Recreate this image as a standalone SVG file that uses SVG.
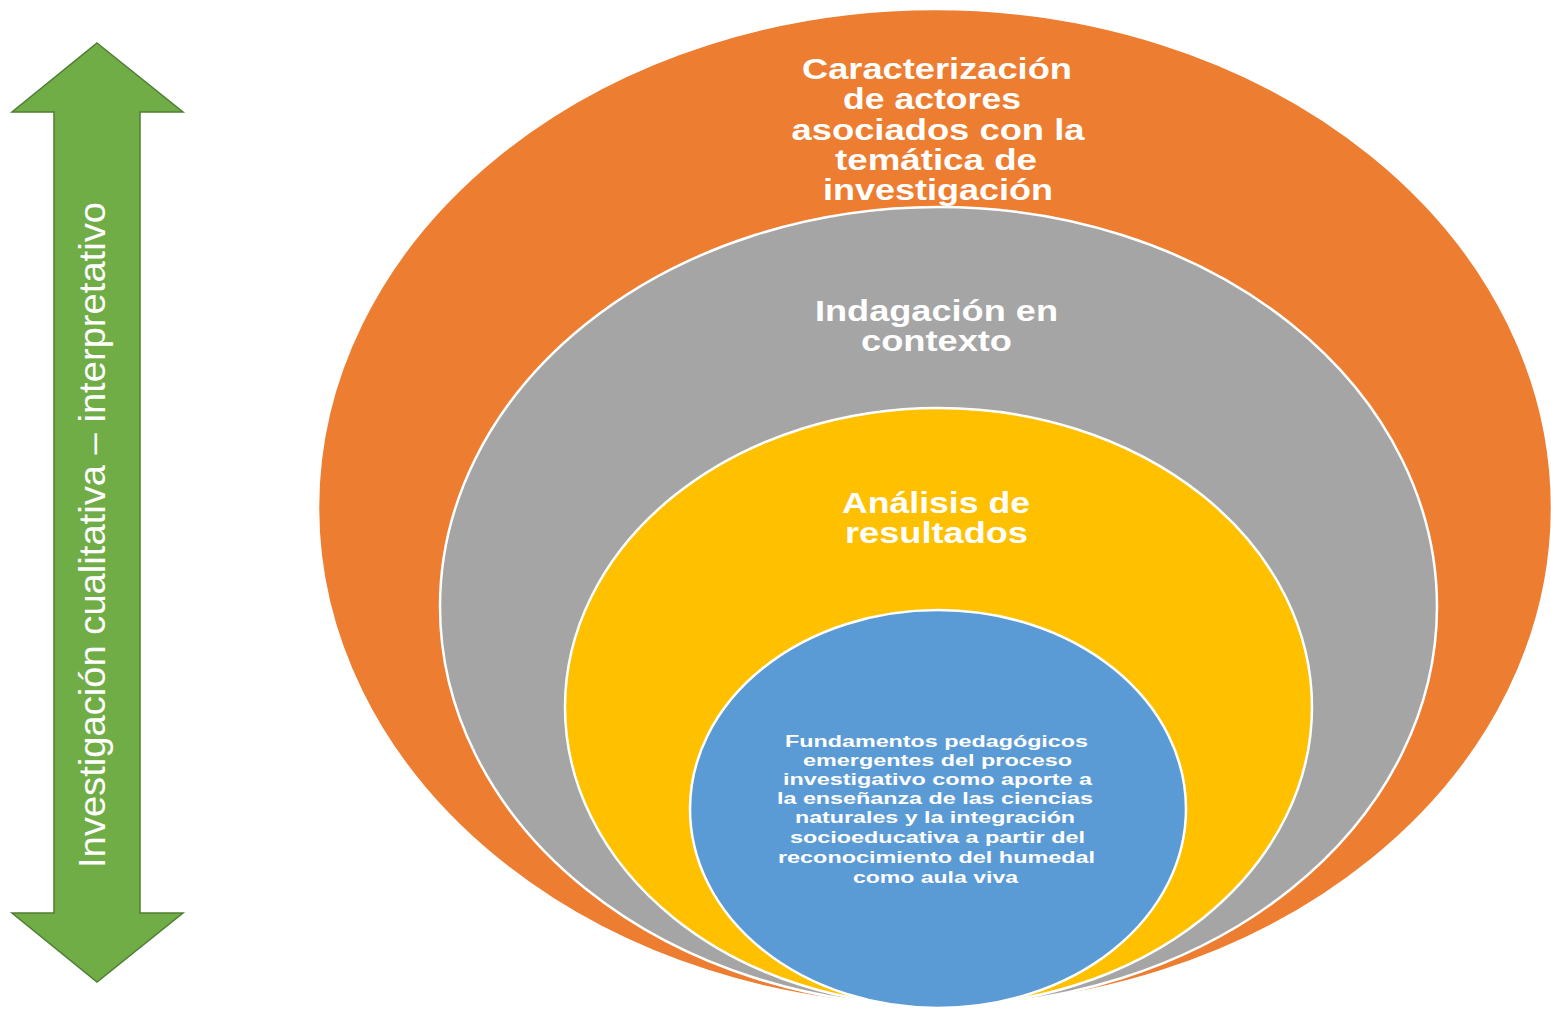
<svg xmlns="http://www.w3.org/2000/svg" width="1551" height="1010" viewBox="0 0 1551 1010">
<style>
.ell{stroke:#ffffff;stroke-width:2.5}
.big{font-family:"Liberation Sans",Arial,sans-serif;font-weight:bold;font-size:29px;fill:#ffffff;text-anchor:middle}
.small{font-family:"Liberation Sans",Arial,sans-serif;font-weight:bold;font-size:16px;fill:#ffffff;text-anchor:middle}
.vert{font-family:"Liberation Sans",Arial,sans-serif;font-size:36px;fill:#ffffff;text-anchor:middle}
</style>
<rect width="1551" height="1010" fill="#ffffff"/>
<g id="arrow">
<polygon points="97,43 183,112 140,112 140,913 183,913 97,982 12,913 54,913 54,112 12,112" fill="#70AD47" stroke="#507E32" stroke-width="1.5"/>
<text class="vert" transform="translate(105,535) rotate(-90)" x="0" y="0" textLength="666" lengthAdjust="spacingAndGlyphs">Investigación cualitativa – interpretativo</text>
</g>
<g id="caracterizacion">
<ellipse class="ell" cx="935" cy="507.5" rx="617" ry="498.5" fill="#ED7D31"/>
<text class="big" x="937" y="79" textLength="270" lengthAdjust="spacingAndGlyphs">Caracterización</text>
<text class="big" x="932" y="109" textLength="178" lengthAdjust="spacingAndGlyphs">de actores</text>
<text class="big" x="938" y="140" textLength="293" lengthAdjust="spacingAndGlyphs">asociados con la</text>
<text class="big" x="936" y="170" textLength="202" lengthAdjust="spacingAndGlyphs">temática de</text>
<text class="big" x="938" y="200" textLength="230" lengthAdjust="spacingAndGlyphs">investigación</text>
</g>
<g id="indagacion">
<ellipse class="ell" cx="938.5" cy="606.5" rx="498.5" ry="399.5" fill="#A5A5A5"/>
<text class="big" x="936.5" y="321" textLength="243" lengthAdjust="spacingAndGlyphs">Indagación en</text>
<text class="big" x="936.5" y="351" textLength="151" lengthAdjust="spacingAndGlyphs">contexto</text>
</g>
<g id="analisis">
<ellipse class="ell" cx="938.5" cy="707" rx="373.5" ry="299" fill="#FFC000"/>
<text class="big" x="936" y="513" textLength="188" lengthAdjust="spacingAndGlyphs">Análisis de</text>
<text class="big" x="936.5" y="543" textLength="183" lengthAdjust="spacingAndGlyphs">resultados</text>
</g>
<g id="fundamentos">
<ellipse class="ell" cx="938" cy="809" rx="248" ry="199" fill="#5B9BD5"/>
<text class="small" x="936.5" y="747" textLength="303" lengthAdjust="spacingAndGlyphs">Fundamentos pedagógicos</text>
<text class="small" x="937.5" y="766" textLength="269" lengthAdjust="spacingAndGlyphs">emergentes del proceso</text>
<text class="small" x="937.5" y="785" textLength="309" lengthAdjust="spacingAndGlyphs">investigativo como aporte a</text>
<text class="small" x="935" y="804" textLength="316" lengthAdjust="spacingAndGlyphs">la enseñanza de las ciencias</text>
<text class="small" x="935" y="823" textLength="280" lengthAdjust="spacingAndGlyphs">naturales y la integración</text>
<text class="small" x="937.5" y="843" textLength="295" lengthAdjust="spacingAndGlyphs">socioeducativa a partir del</text>
<text class="small" x="936.5" y="863" textLength="317" lengthAdjust="spacingAndGlyphs">reconocimiento del humedal</text>
<text class="small" x="935.5" y="883" textLength="165" lengthAdjust="spacingAndGlyphs">como aula viva</text>
</g>
<g id="connectors"></g>
</svg>
